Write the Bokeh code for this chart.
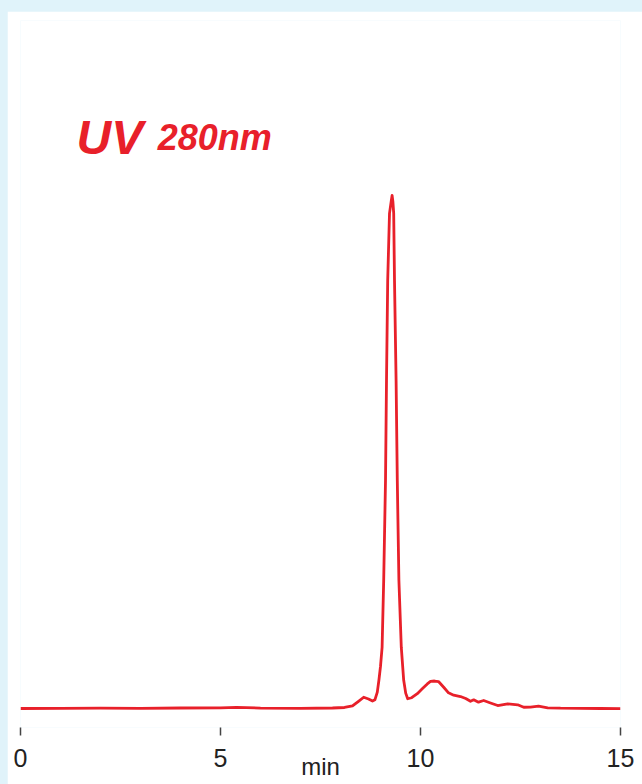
from bokeh.plotting import figure
from bokeh.models import Label, Range1d, FixedTicker, GlobalInlineStyleSheet
from bokeh.embed import file_html
from bokeh.resources import INLINE

# Chromatogram trace (time in min, relative absorbance)
time_min = [0.0, 1.0, 2.0, 3.0, 4.0, 5.0, 5.4, 6.0, 7.0, 7.8, 8.1, 8.3, 8.45, 8.58,
            8.7, 8.8, 8.86, 8.92, 8.96, 9.0, 9.04, 9.08, 9.125, 9.15, 9.18, 9.225,
            9.27, 9.29, 9.31, 9.33, 9.35, 9.39, 9.42, 9.46, 9.52, 9.58, 9.63, 9.68,
            9.78, 9.92, 10.05, 10.17, 10.25, 10.35, 10.45, 10.58, 10.7, 10.83, 11.0,
            11.13, 11.25, 11.33, 11.45, 11.58, 11.75, 11.93, 12.18, 12.43, 12.58, 12.75,
            12.95, 13.18, 13.5, 14.0, 14.5, 15.0]
absorbance = [0.0, 0.04, 0.08, 0.04, 0.1, 0.14, 0.23, 0.08, 0.04, 0.1, 0.2, 0.5, 1.4, 2.2,
              1.85, 1.46, 1.7, 3.2, 5.5, 8.2, 11.9, 25.0, 44.4, 63.9, 83.4, 96.5,
              99.0, 100.0, 98.8, 96.5, 83.4, 63.9, 44.4, 25.0, 11.9, 5.5, 3.0, 1.9,
              2.1, 2.9, 3.9, 4.8, 5.3, 5.36, 5.26, 4.15, 3.06, 2.6, 2.34,
              1.95, 1.42, 1.7, 1.23, 1.56, 1.07, 0.58, 0.92, 0.72, 0.25, 0.29,
              0.45, 0.14, 0.06, 0.04, 0.0, -0.04]
x_ticks = [0, 5, 10, 15]
title_main = "UV"
title_sub = "280nm"
x_unit = "min"

RED = "#e8202a"

p = figure(width=635, height=773, output_backend="svg", toolbar_location=None,
           x_range=Range1d(0, 15), y_range=Range1d(-3.7, 134.1),
           min_border_left=13, min_border_right=22, min_border_top=9,
           min_border_bottom=57)
p.stylesheets = [GlobalInlineStyleSheet(
    css="html,body{background:#e0f3fa;} body{margin:11px 0 0 7px !important;}")]
p.background_fill_color = "white"
p.border_fill_color = "white"
p.outline_line_color = None
p.grid.visible = False
p.yaxis.visible = False

p.line(time_min, absorbance, line_color=RED, line_width=2.8, line_join="round")

ax = p.xaxis[0]
ax.ticker = FixedTicker(ticks=x_ticks)
ax.axis_line_color = None
ax.major_tick_in = 0
ax.major_tick_out = 8
ax.major_tick_line_color = "#444444"
ax.major_tick_line_width = 1.5
ax.minor_tick_line_color = None
ax.major_label_text_font = "Liberation Sans"
ax.major_label_text_font_size = "25px"
ax.major_label_text_color = "#222222"
ax.major_label_standoff = 13
ax.axis_label = x_unit
ax.axis_label_text_font = "Liberation Sans"
ax.axis_label_text_font_style = "normal"
ax.axis_label_text_font_size = "24px"
ax.axis_label_text_color = "#222222"
ax.axis_label_standoff = -17

p.add_layout(Label(x=1.4, y=111.3, text=title_main, text_color=RED,
                   text_font="Liberation Sans", text_font_style="bold italic",
                   text_font_size="48px", text_baseline="alphabetic"))
p.add_layout(Label(x=3.43, y=111.3, text=title_sub, text_color=RED,
                   text_font="Liberation Sans", text_font_style="bold italic",
                   text_font_size="36px", text_baseline="alphabetic"))

open("out.html", "w").write(file_html(p, INLINE))
